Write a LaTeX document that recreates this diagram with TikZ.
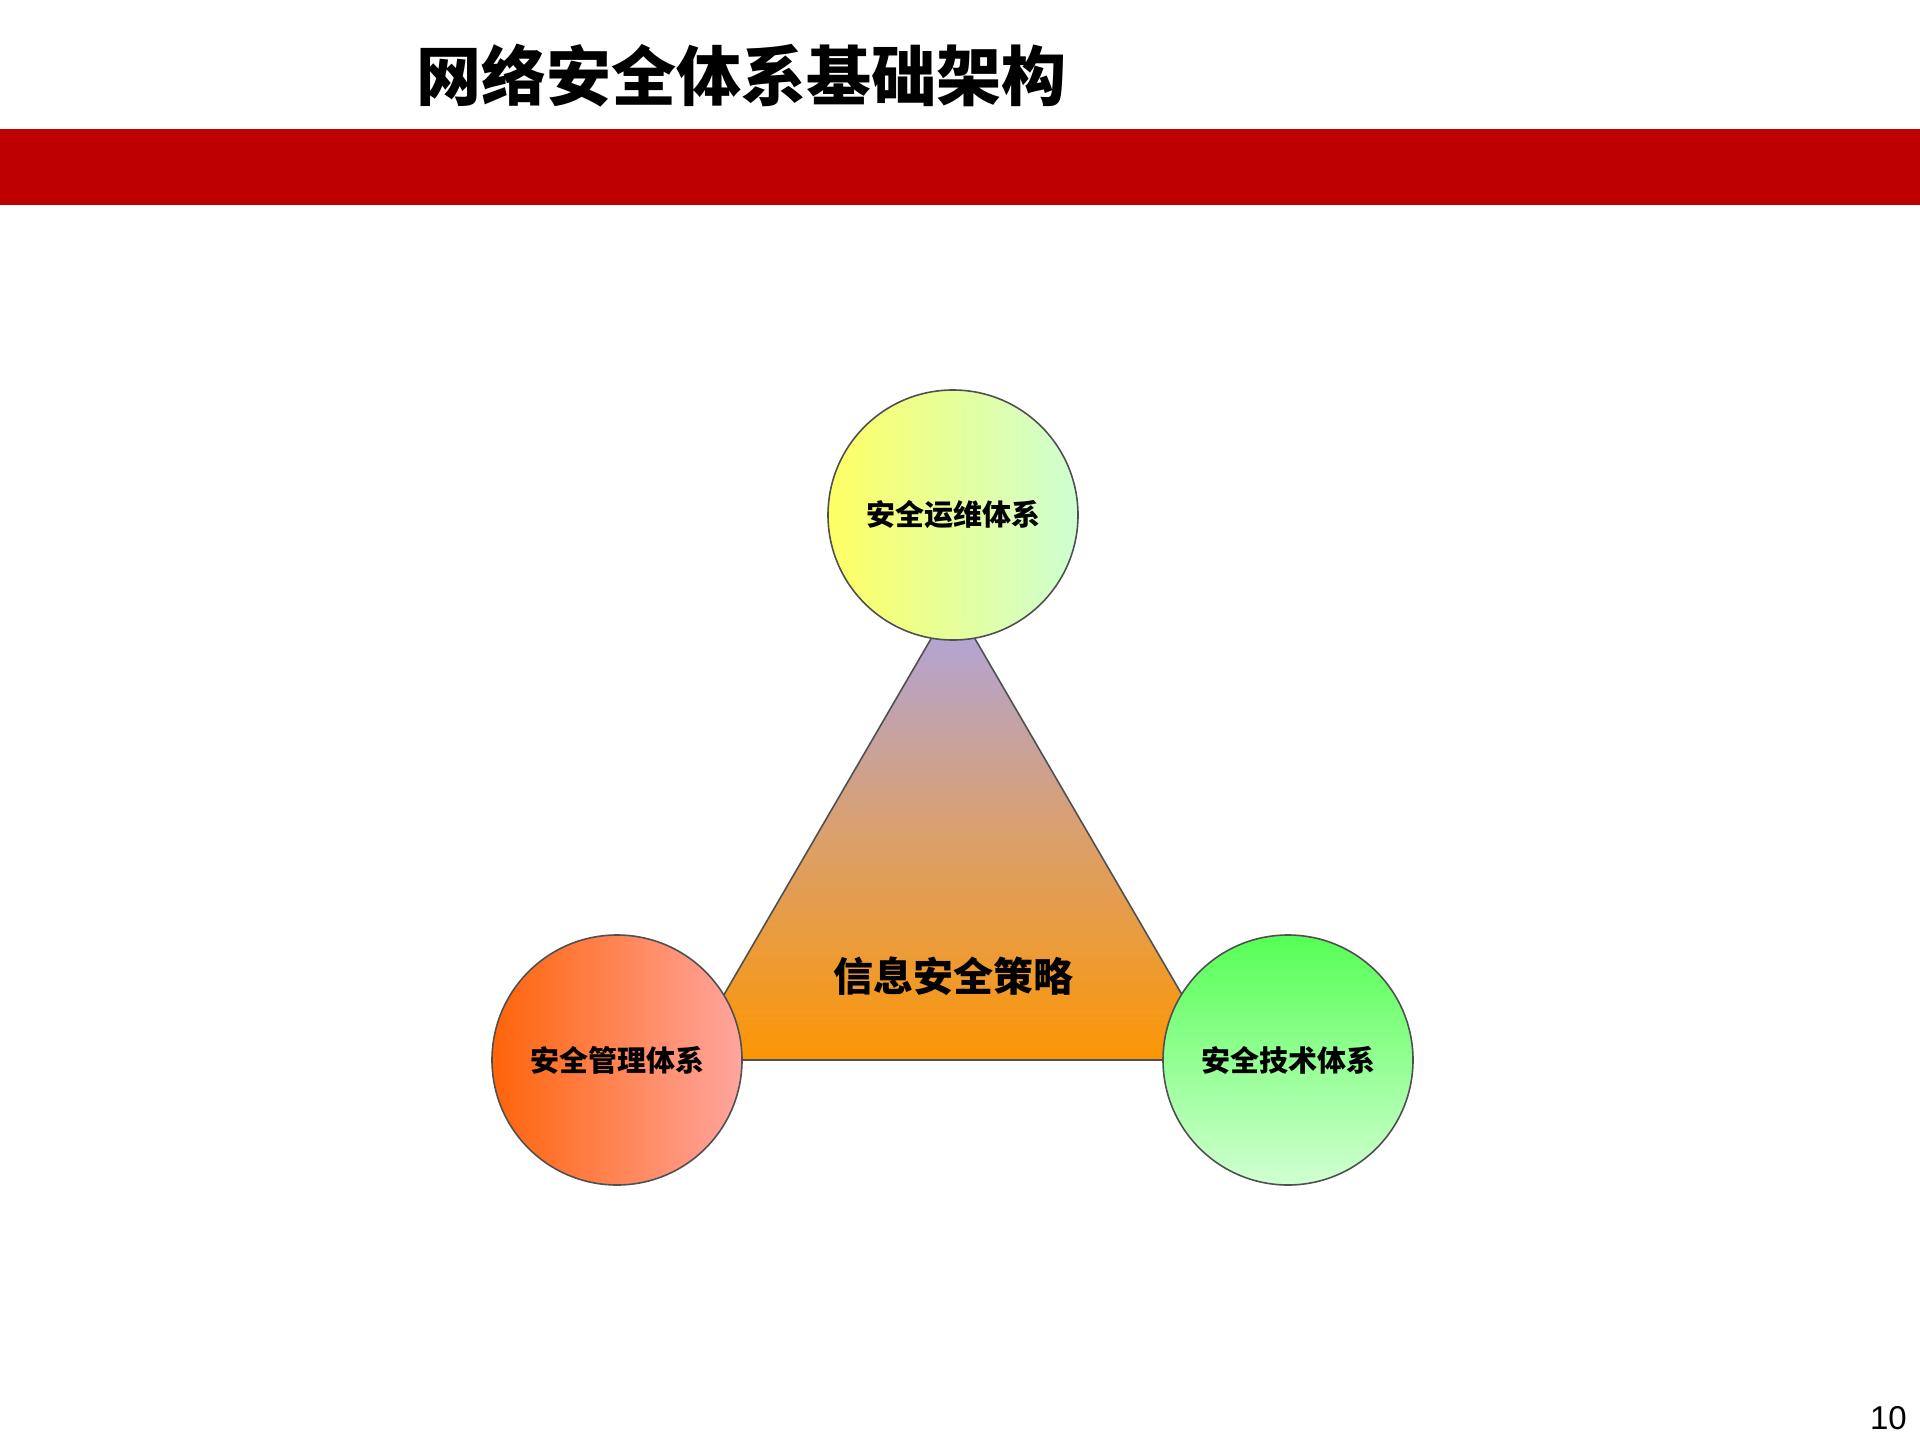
\documentclass[tikz,border=0pt]{standalone}
\usepackage{fontspec}
\newfontfamily\cjk{Noto Sans CJK SC}
\setsansfont{Liberation Sans}
\definecolor{barred}{HTML}{BE0000}
\definecolor{edgegray}{HTML}{505050}
\begin{document}
\begin{tikzpicture}[x=1pt,y=-1pt,
  ring/.style={circle, draw=edgegray, line width=1.6pt, minimum size=250pt, inner sep=0pt,
    font=\cjk\bfseries\fontsize{29}{32}\selectfont},
]
\fill[white] (0,0) rectangle (1920,1440);
\useasboundingbox (0,0) rectangle (1920,1440);
% title
\node[anchor=west, inner sep=0pt, font=\cjk\bfseries\fontsize{65}{72}\selectfont] (title) at (416,76) {网络安全体系基础架构};
% red bar
\fill[barred] (0,129) rectangle (1920,205);
% triangle
\coordinate (apex) at (953,601);
\coordinate (bl) at (686,1060);
\coordinate (br) at (1220,1060);
\shade[top color={rgb,255:red,172;green,165;blue,230}, bottom color={rgb,255:red,252;green,150;blue,5},
  middle color={rgb,255:red,218;green,160;blue,110}]
  (apex) -- (bl) -- (br) -- cycle;
\draw[edgegray, line width=1.6pt, line join=round] (apex) -- (bl) -- (br) -- cycle;
\node[font=\cjk\bfseries\fontsize{40}{46}\selectfont, inner sep=0pt] (policy) at (953,976) {信息安全策略};
% circles
\node[ring, left color={rgb,255:red,255;green,255;blue,100}, right color={rgb,255:red,205;green,255;blue,210}] (ops) at (953,515) {安全运维体系};
\node[ring, left color={rgb,255:red,255;green,100;blue,10}, right color={rgb,255:red,255;green,165;blue,160}] (mgmt) at (617,1060) {安全管理体系};
\node[ring, top color={rgb,255:red,85;green,255;blue,85}, bottom color={rgb,255:red,210;green,255;blue,210}] (tech) at (1288,1060) {安全技术体系};
% page number
\node[anchor=south east, inner sep=0pt, font=\sffamily\fontsize{33}{36}\selectfont] (page) at (1907,1430) {10};
\end{tikzpicture}
\end{document}
